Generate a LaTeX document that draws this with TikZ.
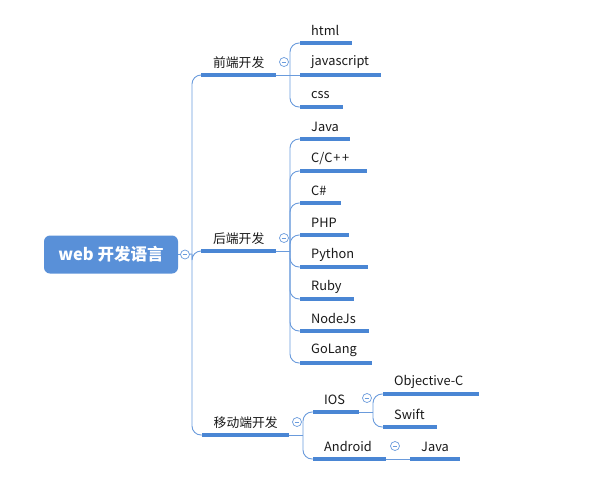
\documentclass[tikz,border=0pt]{standalone}
\usepackage{fontspec}
\setmainfont{Noto Sans CJK SC}
\begin{document}
\begin{tikzpicture}[x=1pt,y=-1pt,
  every node/.style={text=black!90},
  topic/.style={inner ysep=0pt,inner xsep=0pt,minimum height=24.5pt,font=\fontsize{12.8}{14}\selectfont,anchor=south west},
  leaf/.style={topic,inner xsep=11pt,align=left,text width=#1pt-22pt},
  uline/.style={draw=ublue,line width=3.2pt},
  conn/.style={draw=lblue,line width=0.9pt,rounded corners=9pt},
  fold/.style={circle,draw=lblue,fill=white,line width=0.7pt,minimum size=9pt,inner sep=0pt,
    path picture={\draw[lblue,line width=0.7pt] ([xshift=-2.3pt]path picture bounding box.center) -- ([xshift=2.3pt]path picture bounding box.center);}},
  rootbox/.style={fill=rblue,rounded corners=6pt,minimum width=134pt,minimum height=38pt,inner sep=0pt,text=white,font=\fontsize{16.5}{18}\selectfont\bfseries}
]
\definecolor{ublue}{HTML}{4A86D4}
\definecolor{lblue}{HTML}{6A9BDC}
\definecolor{rblue}{HTML}{5990D8}
\useasboundingbox (0,0) rectangle (592,477);

% root
\node[rootbox] (root) at (111,254.5) {web 开发语言};
\coordinate (rj) at (192,254);

% branches (anchor south west = underline start)
\node[topic,minimum width=75pt] (f) at (201,75) {前端开发};
\node[topic,minimum width=75pt] (b) at (201,251) {后端开发};
\node[topic,minimum width=87pt] (m) at (202,435) {移动端开发};

% leaves of f
\node[leaf=52] (html) at (300,43) {html};
\node[leaf=81] (js) at (300,75) {javascript};
\node[leaf=43] (css) at (300,107) {css};
% leaves of b
\node[leaf=50] (java) at (300,139) {Java};
\node[leaf=67] (cpp) at (300,171) {C/C\kern1pt+\kern1.5pt+};
\node[leaf=41] (cs) at (300,203) {C\#};
\node[leaf=49] (php) at (300,235) {PHP};
\node[leaf=68] (py) at (300,267) {Python};
\node[leaf=54] (rb) at (300,299) {Ruby};
\node[leaf=69] (node) at (300,331) {NodeJs};
\node[leaf=72] (go) at (300,363) {GoLang};
% leaves of m
\node[leaf=46] (ios) at (313,412) {IOS};
\node[leaf=73] (and) at (313,459) {Android};
\node[leaf=96] (objc) at (383,394) {Objective-C};
\node[leaf=54] (swift) at (383,427) {Swift};
\node[leaf=50] (java2) at (410,459) {Java};

% underlines
\foreach \n in {f,b,m,html,js,css,java,cpp,cs,php,py,rb,node,go,ios,and,objc,swift,java2}
  \draw[uline] (\n.south west) -- (\n.south east);

% junction coordinates
\coordinate (fj) at (290,75);
\coordinate (bj) at (290,251);
\coordinate (mj) at (303,435);
\coordinate (ij) at (373,412);

% connectors
\draw[conn] (root.east) -- (rj);
\draw[conn] (rj) |- (f.south west);
\draw[conn] (rj) -- (192,251) -- (b.south west);
\draw[conn] (rj) |- (m.south west);

\draw[conn] (f.south east) -- (fj);
\foreach \n in {html,css} \draw[conn] (fj) |- (\n.south west);
\draw[conn] (fj) -- (js.south west);

\draw[conn] (b.south east) -- (bj);
\foreach \n in {java,cpp,cs,php,py,rb,node,go} \draw[conn] (bj) |- (\n.south west);

\draw[conn] (m.south east) -- (mj);
\foreach \n in {ios,and} \draw[conn] (mj) |- (\n.south west);

\draw[conn] (ios.south east) -- (ij);
\foreach \n in {objc,swift} \draw[conn] (ij) |- (\n.south west);

\draw[conn] (and.south east) -- (java2.south west);

% fold markers
\node[fold] (c0) at (185,254.5) {};
\node[fold] (c1) at (284,62) {};
\node[fold] (c2) at (284,238) {};
\node[fold] (c3) at (297,422) {};
\node[fold] (c4) at (367,398) {};
\node[fold] (c5) at (395,446) {};
\end{tikzpicture}
\end{document}
